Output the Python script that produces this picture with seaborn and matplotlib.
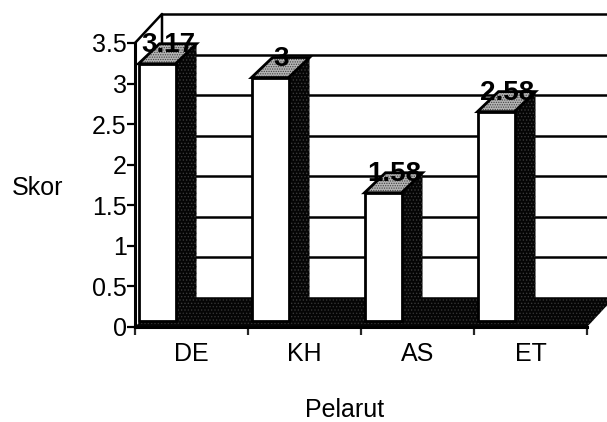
import matplotlib
matplotlib.use("Agg")
import matplotlib.pyplot as plt
from matplotlib.patches import Polygon
import seaborn as sns
import pandas as pd

# data
pelarut = ["DE", "KH", "AS", "ET"]
skor = [3.17, 3, 1.58, 2.58]
skor_label = ["3.17", "3", "1.58", "2.58"]
y_ticks = [0, 0.5, 1, 1.5, 2, 2.5, 3, 3.5]
y_tick_labels = ["0", "0.5", "1", "1.5", "2", "2.5", "3", "3.5"]

sns.set_style("white")
plt.rcParams['font.family'] = ['Liberation Sans', 'DejaVu Sans']
plt.rcParams['hatch.linewidth'] = 0.6

W, H = 607, 422
fig = plt.figure(figsize=(W / 100, H / 100), dpi=100)
ax = fig.add_axes([135 / W, 1 - 327 / H, 452 / W, 284 / H])

df = pd.DataFrame({"pelarut": pelarut, "skor": skor})

# px -> data scale
ux = 1 / 113
uy = 1 / 81
wall_dx, wall_dy = 27 * ux, 29 * uy   # depth of the back wall
bar_dx, bar_dy = 21 * ux, 20 * uy     # depth of the bars
lift = 6 * uy
shift = -34.5 * ux

sns.barplot(df, x="pelarut", y="skor", color="white", width=37 * ux, bottom=lift,
            edgecolor="black", linewidth=2, zorder=4, ax=ax)
ax.set_xlim(-0.5, 3.5)
ax.set_ylim(0, 3.5)

# back wall
xl, xr = -0.5, 3.5
for t in y_ticks:
    ax.plot([xl + wall_dx, xr + wall_dx], [t + wall_dy, t + wall_dy], color="black", lw=1.8,
            clip_on=False, zorder=1)
ax.plot([xl, xl + wall_dx, xl + wall_dx], [3.5, 3.5 + wall_dy, wall_dy], color="black", lw=1.8,
        clip_on=False, zorder=1)

# floor
floor = [(xl, 0), (xr, 0), (xr + wall_dx, wall_dy), (xl + wall_dx, wall_dy)]
ax.add_patch(Polygon(floor, closed=True, fc="#050505", ec="#333333", hatch=".....", lw=0,
                     clip_on=False, zorder=1.5))

# 3d sides of the bars
for p, lab in zip(ax.patches, skor_label):
    p.set_x(p.get_x() + shift)
    x0 = p.get_x()
    x1 = x0 + p.get_width()
    top = p.get_y() + p.get_height()
    bot = p.get_y()
    side = [(x1, bot), (x1 + bar_dx, bot + bar_dy), (x1 + bar_dx, top + bar_dy), (x1, top)]
    ax.add_patch(Polygon(side, closed=True, fc="#050505", ec="#3a3a3a", hatch=".....", lw=0,
                         clip_on=False, zorder=3))
    cap = [(x0, top), (x1, top), (x1 + bar_dx, top + bar_dy), (x0 + bar_dx, top + bar_dy)]
    ax.add_patch(Polygon(cap, closed=True, fc="#b4b4b4", ec="#404040", hatch=".......", lw=0,
                         clip_on=False, zorder=3))
    ax.add_patch(Polygon(cap, closed=True, fill=False, ec="black", lw=2, clip_on=False, zorder=3.5))
    ax.text((x0 + x1) / 2 + 11.5 * ux, top + 19 * uy, lab, ha="center", va="center", fontsize=20,
            fontweight="bold", color="black", zorder=6, clip_on=False)

# axes
for s in ["top", "right"]:
    ax.spines[s].set_visible(False)
for s in ["left", "bottom"]:
    ax.spines[s].set_linewidth(2.2)
    ax.spines[s].set_color("black")
    ax.spines[s].set_zorder(5)

ax.set_yticks(y_ticks)
ax.set_yticklabels(y_tick_labels)
ax.tick_params(axis="y", left=True, length=6, width=1.6, labelsize=18, pad=0, colors="black")

ax.set_xticks([-0.5, 0.5, 1.5, 2.5, 3.5])
ax.set_xticklabels([])
ax.set_xticks(range(len(pelarut)), minor=True)
ax.set_xticklabels(pelarut, minor=True)
ax.tick_params(axis="x", which="major", bottom=True, length=6, width=1.6)
ax.tick_params(axis="x", which="minor", bottom=False, length=0, labelsize=18, pad=11, colors="black")

ax.set_xlabel("")
ax.set_ylabel("")
fig.text(38 / W, 1 - 188 / H, "Skor", ha="center", va="center", fontsize=18, color="black")
fig.text(345 / W, 1 - 410 / H, "Pelarut", ha="center", va="center", fontsize=18, color="black")

fig.savefig("out.png", dpi=100, facecolor="white")
